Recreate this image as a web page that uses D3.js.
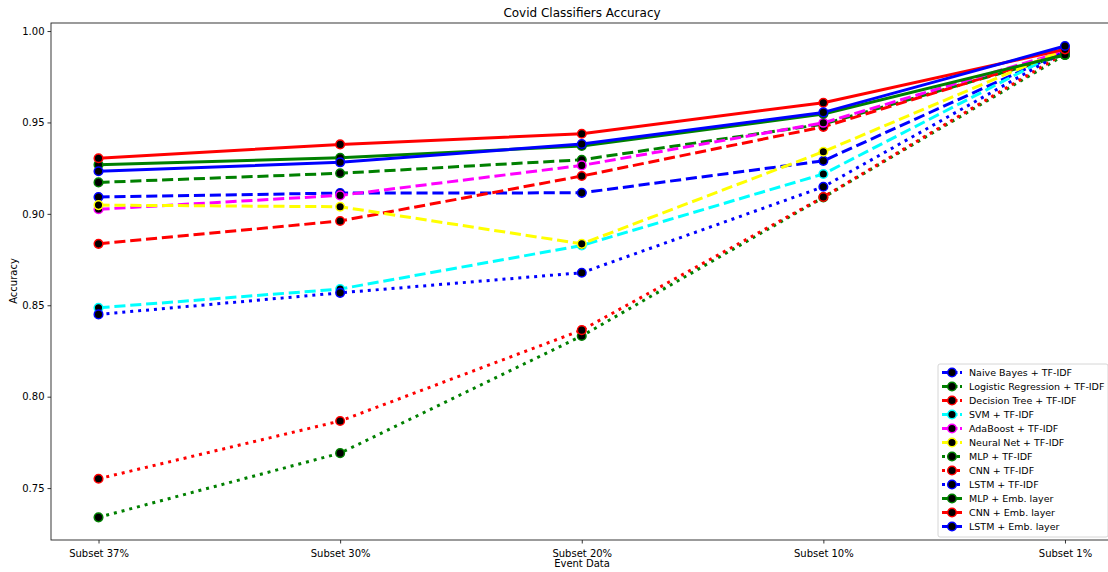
<!DOCTYPE html>
<html><head><meta charset="utf-8">
<script src="https://cdn.jsdelivr.net/npm/d3@7"></script>
<style>body{margin:0;background:#fff}svg{display:block;font-family:"DejaVu Sans",sans-serif}</style>
</head><body><svg id="c" width="1108" height="572"></svg>
<script>
const categories = ["Subset 37%", "Subset 30%", "Subset 20%", "Subset 10%", "Subset 1%"];
const yTicks = [0.75, 0.80, 0.85, 0.90, 0.95, 1.00];
const seriesNames = ["Naive Bayes + TF-IDF","Logistic Regression + TF-IDF","Decision Tree + TF-IDF","SVM + TF-IDF","AdaBoost + TF-IDF","Neural Net + TF-IDF","MLP + TF-IDF","CNN + TF-IDF","LSTM + TF-IDF","MLP + Emb. layer","CNN + Emb. layer","LSTM + Emb. layer"];
const naiveBayes   = [0.9092, 0.9114, 0.9115, 0.9290, 0.989];
const logReg       = [0.9172, 0.9222, 0.9296, 0.9491, 0.987];
const decTree      = [0.8836, 0.8961, 0.9207, 0.9476, 0.988];
const svm          = [0.8486, 0.8589, 0.8827, 0.9218, 0.990];
const adaBoost     = [0.9025, 0.9101, 0.9265, 0.9498, 0.989];
const neuralNet    = [0.9048, 0.9039, 0.8836, 0.9340, 0.990];
const mlpTfidf     = [0.7340, 0.7691, 0.8332, 0.9090, 0.987];
const cnnTfidf     = [0.7551, 0.7867, 0.8364, 0.9092, 0.988];
const lstmTfidf    = [0.8450, 0.8568, 0.8678, 0.9148, 0.989];
const mlpEmb       = [0.9269, 0.9307, 0.9371, 0.9546, 0.987];
const cnnEmb       = [0.9304, 0.9380, 0.9438, 0.9608, 0.990];
const lstmEmb      = [0.9233, 0.9282, 0.9382, 0.9555, 0.9918];
const allValues = [naiveBayes, logReg, decTree, svm, adaBoost, neuralNet, mlpTfidf, cnnTfidf, lstmTfidf, mlpEmb, cnnEmb, lstmEmb];
const colors = ["#0000ff","#008000","#ff0000","#00ffff","#ff00ff","#ffff00","#008000","#ff0000","#0000ff","#008000","#ff0000","#0000ff"];
const styles = ["dash","dash","dash","dash","dash","dash","dot","dot","dot","solid","solid","solid"];

const svg = d3.select("#c");
const L = 51, T = 23, B = 540, R = 1106;
const lw = 3;
const x = d3.scaleLinear().domain([-0.2, 4.2]).range([50.2, 1113.3]);
const y = d3.scaleLinear().domain([0.7216, 1.0044]).range([B, T]);
const dashFor = s => s === "dash" ? `${3.7*lw},${1.6*lw}` : s === "dot" ? `${1*lw},${1.65*lw}` : null;

svg.append("defs").append("clipPath").attr("id","clip").append("rect")
  .attr("x", L).attr("y", T).attr("width", 1108 - L).attr("height", B - T);

const plot = svg.append("g").attr("clip-path","url(#clip)");
const line = d3.line().x((d,i) => x(i)).y(d => y(d));
allValues.forEach((vals, k) => {
  const g = plot.append("g");
  g.append("path").datum(vals).attr("d", line).attr("fill","none")
    .attr("stroke", colors[k]).attr("stroke-width", lw)
    .attr("stroke-dasharray", dashFor(styles[k]))
    .attr("stroke-linejoin","round");
  g.selectAll("circle").data(vals).join("circle")
    .attr("cx",(d,i)=>x(i)).attr("cy",d=>y(d)).attr("r",4.3)
    .attr("fill","#000").attr("stroke",colors[k]).attr("stroke-width",1.5);
});

// axes
const xAxis = d3.axisBottom(x).tickValues(d3.range(categories.length)).tickFormat(i => categories[i]).tickSize(3.5).tickSizeOuter(0);
const gx = svg.append("g").attr("transform",`translate(0,${B})`).call(xAxis);
const yAxis = d3.axisLeft(y).tickValues(yTicks).tickFormat(d3.format(".2f")).tickSize(3.5).tickSizeOuter(0);
const gy = svg.append("g").attr("transform",`translate(${L},0)`).call(yAxis);
[gx, gy].forEach(g => {
  g.select(".domain").remove();
  g.selectAll("text").attr("font-size", 10).attr("fill","#000").attr("font-family","DejaVu Sans");
  g.selectAll("line").attr("stroke","#000").attr("stroke-width",0.8);
});
gx.selectAll("text").attr("dy","1.05em");
// spines
svg.append("rect").attr("x",L).attr("y",T).attr("width",R-L+10).attr("height",B-T)
  .attr("fill","none").attr("stroke","#222").attr("stroke-width",0.9);

svg.append("text").attr("x", 582).attr("y", 17).attr("text-anchor","middle")
  .attr("font-size", 12).text("Covid Classifiers Accuracy");
svg.append("text").attr("x", 582).attr("y", 567).attr("text-anchor","middle")
  .attr("font-size", 10).text("Event Data");
svg.append("text").attr("transform","translate(17,281) rotate(-90)").attr("text-anchor","middle")
  .attr("font-size", 10).text("Accuracy");

// legend
const lg = svg.append("g");
const lx = 938, ly = 364, lwid = 170, lh = 173, step = 14;
lg.append("rect").attr("x",lx).attr("y",ly).attr("width",lwid).attr("height",lh).attr("rx",2)
  .attr("fill","#fff").attr("fill-opacity",0.8).attr("stroke","#ccc").attr("stroke-width",0.8);
seriesNames.forEach((name,k) => {
  const yy = ly + 8.5 + k*step;
  lg.append("line").attr("x1",lx+4).attr("x2",lx+24).attr("y1",yy).attr("y2",yy)
    .attr("stroke",colors[k]).attr("stroke-width",lw).attr("stroke-dasharray",
      styles[k]==="dash" ? "6.5,2.5" : styles[k]==="dot" ? "3,4.5" : null)
    .attr("stroke-dashoffset", styles[k]==="dot" ? 0 : 0);
  lg.append("circle").attr("cx",lx+14).attr("cy",yy).attr("r",4.3)
    .attr("fill","#000").attr("stroke",colors[k]).attr("stroke-width",1.5);
  lg.append("text").attr("x",lx+31).attr("y",yy+3.5).attr("font-size",9.5).text(name);
});
</script></body></html>
